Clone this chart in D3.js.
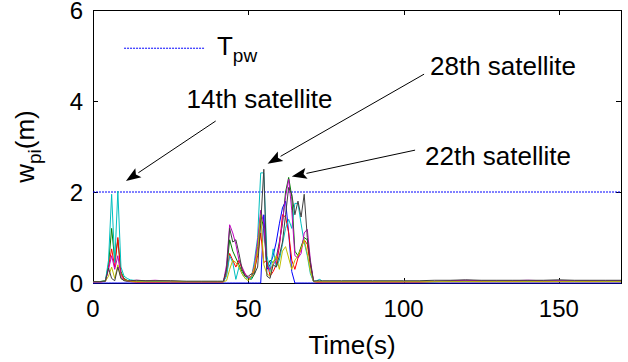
<!DOCTYPE html>
<html>
<head>
<meta charset="utf-8">
<script src="https://cdn.jsdelivr.net/npm/d3@7"></script>
<style>
  html, body { margin: 0; padding: 0; background: #fff; }
  text { font-family: "Liberation Sans", Arial, sans-serif; fill: #000; }
</style>
</head>
<body>
<script>
// sample times (s)
const time = [0, 2, 4, 5, 6, 7, 8, 9, 10, 11, 12, 14, 17, 20, 25, 30, 35, 40,
  42, 43, 44, 45, 46, 47, 48, 49, 50, 51, 52, 53, 54, 55, 56, 57, 58, 59, 60,
  61, 62, 63, 64, 65, 66, 67, 68, 69, 70, 71, 72, 73, 74,
  76, 80, 90, 100, 105, 110, 115, 120, 125, 130, 135, 140, 145, 150, 155, 160, 165, 170];

// w_pi per satellite
const satBlue = [0, 0, 0, 0, 0, 0, 0, 0, 0, 0, 0, 0, 0, 0, 0, 0, 0, 0,
  0, 0, 0, 0, 0, 0, 0, 0, 0, 0, 0, 0, 0, 1.5, 0.3, 0.4, 0.6, 0.9, 1.3,
  1.65, 1.8, 1.1, 0.25, 0, 0, 0, 0, 0, 0, 0, 0, 0, 0,
  0, 0, 0, 0, 0, 0, 0, 0, 0, 0, 0, 0, 0, 0, 0, 0, 0, 0];
const satGreen = [0.03, 0.03, 0.05, 0.4, 1.2, 0.5, 0.95, 0.25, 0.1, 0.06, 0.04, 0.03, 0.03, 0.03, 0.03, 0.03, 0.03, 0.03,
  0.03, 0.3, 0.95, 0.7, 0.55, 0.4, 0.25, 0.15, 0.1, 0.08, 0.2, 0.8, 1.5, 1.2, 0.35, 0.5, 0.45, 0.55, 0.9,
  1.3, 2.0, 2.32, 1.9, 0.7, 0.6, 0.8, 1.0, 0.95, 0.4, 0.04, 0.03, 0.03, 0.03,
  0.03, 0.03, 0.03, 0.03, 0.03, 0.03, 0.04, 0.05, 0.04, 0.04, 0.04, 0.05, 0.04, 0.05, 0.04, 0.04, 0.04, 0.04];
const satRed = [0.02, 0.02, 0.04, 0.35, 0.75, 0.35, 1.0, 0.2, 0.08, 0.05, 0.03, 0.02, 0.02, 0.02, 0.02, 0.02, 0.02, 0.02,
  0.02, 0.2, 0.65, 0.5, 0.35, 0.5, 0.3, 0.2, 0.1, 0.12, 0.3, 0.6, 1.1, 0.45, 0.5, 0.15, 0.25, 0.4, 0.8,
  1.5, 1.45, 1.1, 0.5, 0.3, 0.55, 0.75, 0.95, 0.85, 0.4, 0.03, 0.02, 0.02, 0.02,
  0.02, 0.02, 0.02, 0.02, 0.02, 0.03, 0.03, 0.03, 0.03, 0.03, 0.03, 0.03, 0.03, 0.03, 0.03, 0.03, 0.03, 0.03];
const satCyan = [0.02, 0.02, 0.05, 0.5, 1.95, 0.45, 2.02, 0.35, 0.15, 0.1, 0.07, 0.05, 0.04, 0.04, 0.03, 0.03, 0.03, 0.03,
  0.03, 0.15, 0.6, 0.45, 0.08, 0.35, 0.2, 0.1, 0.12, 0.1, 0.5, 1.0, 2.42, 2.42, 0.6, 0.25, 0.75, 0.35, 0.5,
  0.85, 1.2, 1.4, 1.2, 1.75, 1.75, 1.3, 0.9, 0.6, 0.2, 0.03, 0.05, 0.08, 0.03,
  0.03, 0.03, 0.03, 0.03, 0.03, 0.03, 0.04, 0.04, 0.05, 0.04, 0.05, 0.04, 0.05, 0.05, 0.04, 0.05, 0.04, 0.04];
const satMagenta = [0.02, 0.02, 0.04, 0.3, 0.6, 0.3, 0.6, 0.15, 0.06, 0.04, 0.05, 0.06, 0.05, 0.06, 0.04, 0.03, 0.03, 0.03,
  0.03, 0.4, 1.28, 1.1, 0.85, 0.5, 0.35, 0.2, 0.12, 0.15, 0.4, 0.9, 1.6, 1.3, 0.35, 0.3, 0.4, 0.5, 0.85,
  1.35, 1.9, 2.28, 1.6, 0.6, 0.55, 0.65, 1.1, 1.18, 0.5, 0.04, 0.03, 0.03, 0.03,
  0.03, 0.03, 0.03, 0.03, 0.03, 0.04, 0.05, 0.06, 0.05, 0.05, 0.05, 0.06, 0.05, 0.05, 0.05, 0.05, 0.05, 0.05];
const satYellow = [0.03, 0.03, 0.04, 0.15, 0.35, 0.1, 0.4, 0.1, 0.06, 0.05, 0.04, 0.04, 0.04, 0.04, 0.04, 0.03, 0.03, 0.03,
  0.03, 0.05, 0.3, 0.5, 0.45, 0.35, 0.2, 0.1, 0.05, 0.15, 0.35, 0.7, 1.5, 0.4, 0.2, 0.15, 0.45, 0.6, 0.3,
  0.7, 0.8, 0.55, 0.3, 0.5, 0.6, 0.75, 0.95, 0.65, 0.25, 0.03, 0.03, 0.03, 0.03,
  0.03, 0.03, 0.03, 0.03, 0.03, 0.03, 0.03, 0.03, 0.03, 0.03, 0.03, 0.03, 0.03, 0.03, 0.03, 0.03, 0.03, 0.03];
const satGray = [0.03, 0.03, 0.04, 0.33, 0.1, 0.05, 0.35, 0.1, 0.05, 0.04, 0.05, 0.06, 0.05, 0.05, 0.05, 0.04, 0.04, 0.04,
  0.04, 0.3, 1.2, 0.9, 0.95, 0.65, 0.3, 0.15, 0.15, 0.2, 0.2, 0.35, 1.3, 2.5, 0.15, 0.1, 0.4, 0.35, 0.6,
  0.9, 1.5, 2.1, 1.95, 1.5, 1.8, 1.45, 1.95, 1.0, 0.45, 0.04, 0.05, 0.05, 0.05,
  0.05, 0.05, 0.05, 0.05, 0.05, 0.06, 0.06, 0.07, 0.06, 0.06, 0.06, 0.06, 0.06, 0.07, 0.06, 0.06, 0.06, 0.06];

const seriesValues = [satBlue, satGreen, satRed, satCyan, satMagenta, satYellow, satGray];
const seriesColors = ["#0000ff", "#008000", "#ff0000", "#00bfbf", "#bf00bf", "#bfbf00", "#404040"];

const threshold = 2.0;
const xTicks = [0, 50, 100, 150];
const yTicks = [0, 2, 4, 6];

// annotations: text anchor and arrow tail -> tip, in data units
const notes = [
  { label: "14th satellite", tx: 30.1, tv: 3.85, from: [39.5, 3.56], to: [10.6, 2.24] },
  { label: "28th satellite", tx: 108.5, tv: 4.57, from: [106.6, 4.59], to: [56.2, 2.62] },
  { label: "22th satellite", tx: 106.9, tv: 2.59, from: [103.7, 2.92], to: [64.0, 2.34] }
];

const width = 628;
const height = 362;
const marginLeft = 93;
const marginRight = 7;
const marginTop = 10;
const marginBottom = 79;

const x = d3.scaleLinear()
  .domain([0, 170])
  .range([marginLeft, width - marginRight]);

const y = d3.scaleLinear()
  .domain([0, 6])
  .range([height - marginBottom, marginTop]);

const svg = d3.create("svg")
  .attr("width", width)
  .attr("height", height)
  .style("display", "block");

svg.append("rect").attr("width", width).attr("height", height).attr("fill", "#fff");

const x0 = x.range()[0], x1 = x.range()[1];
const y0 = y.range()[0], y1 = y.range()[1];
const tickLen = 5;

// axes box (matlab style, ticks inside on all four sides)
const axes = svg.append("g").attr("stroke", "#000").attr("stroke-width", 1).attr("fill", "none");
axes.append("rect")
  .attr("x", x0 + 0.5).attr("y", y1 + 0.5)
  .attr("width", x1 - x0).attr("height", y0 - y1);

xTicks.forEach(t => {
  const px = Math.round(x(t)) + 0.5;
  axes.append("line").attr("x1", px).attr("x2", px).attr("y1", y0).attr("y2", y0 - tickLen);
  axes.append("line").attr("x1", px).attr("x2", px).attr("y1", y1).attr("y2", y1 + tickLen);
});
yTicks.forEach(v => {
  const py = Math.round(y(v)) + 0.5;
  axes.append("line").attr("x1", x0).attr("x2", x0 + tickLen).attr("y1", py).attr("y2", py);
  axes.append("line").attr("x1", x1).attr("x2", x1 - tickLen).attr("y1", py).attr("y2", py);
});

// tick labels
svg.append("g")
  .attr("font-size", 24)
  .attr("text-anchor", "middle")
  .selectAll("text")
  .data(xTicks)
  .join("text")
  .attr("x", d => x(d))
  .attr("y", y0 + 34)
  .text(d => d);

svg.append("g")
  .attr("font-size", 24)
  .attr("text-anchor", "end")
  .selectAll("text")
  .data(yTicks)
  .join("text")
  .attr("x", x0 - 10)
  .attr("y", d => y(d) + 9)
  .text(d => d);

// axis labels
svg.append("text")
  .attr("x", (x0 + x1) / 2 - 5)
  .attr("y", 354)
  .attr("font-size", 26)
  .attr("text-anchor", "middle")
  .text("Time(s)");

const ylab = svg.append("text")
  .attr("transform", `translate(34,${(y0 + y1) / 2}) rotate(-90)`)
  .attr("font-size", 26)
  .attr("text-anchor", "middle");
ylab.append("tspan").text("w");
ylab.append("tspan").attr("font-size", 19).attr("dy", 7).text("pi");
ylab.append("tspan").attr("dy", -7).text("(m)");

// threshold line
svg.append("line")
  .attr("x1", x(0)).attr("x2", x(170))
  .attr("y1", y(threshold)).attr("y2", y(threshold))
  .attr("stroke", "#0000ff")
  .attr("stroke-width", 1)
  .attr("stroke-dasharray", "2,1");

// satellite lines
const line = d3.line()
  .x((d, i) => x(time[i]))
  .y(d => y(d));

svg.append("g")
  .attr("fill", "none")
  .attr("stroke-width", 1)
  .attr("stroke-linejoin", "round")
  .selectAll("path")
  .data(seriesValues)
  .join("path")
  .attr("stroke", (d, i) => seriesColors[i])
  .attr("d", d => line(d));

// legend
svg.append("line")
  .attr("x1", x(10)).attr("x2", x(36))
  .attr("y1", y(5.16)).attr("y2", y(5.16))
  .attr("stroke", "#0000ff")
  .attr("stroke-width", 1)
  .attr("stroke-dasharray", "2,1");
const leg = svg.append("text")
  .attr("x", x(39.9))
  .attr("y", y(5.01))
  .attr("font-size", 26);
leg.append("tspan").text("T");
leg.append("tspan").attr("font-size", 19).attr("dy", 7).text("pw");

// annotations with arrows
const ann = svg.append("g");
notes.forEach(n => {
  ann.append("text")
    .attr("x", x(n.tx))
    .attr("y", y(n.tv))
    .attr("font-size", 26)
    .text(n.label);

  const ax = x(n.from[0]), ay = y(n.from[1]);
  const bx = x(n.to[0]), by = y(n.to[1]);
  const ang = Math.atan2(by - ay, bx - ax);
  const headLen = 15, headW = 5.5;
  const baseX = bx - headLen * Math.cos(ang), baseY = by - headLen * Math.sin(ang);
  ann.append("line")
    .attr("x1", ax).attr("y1", ay)
    .attr("x2", baseX).attr("y2", baseY)
    .attr("stroke", "#000").attr("stroke-width", 1);
  const pts = [
    [bx, by],
    [baseX + headW * Math.sin(ang), baseY - headW * Math.cos(ang)],
    [baseX + 3 * Math.cos(ang), baseY + 3 * Math.sin(ang)],
    [baseX - headW * Math.sin(ang), baseY + headW * Math.cos(ang)]
  ];
  ann.append("polygon")
    .attr("points", pts.map(p => p.join(",")).join(" "))
    .attr("fill", "#000");
});

document.body.appendChild(svg.node());
</script>
</body>
</html>
